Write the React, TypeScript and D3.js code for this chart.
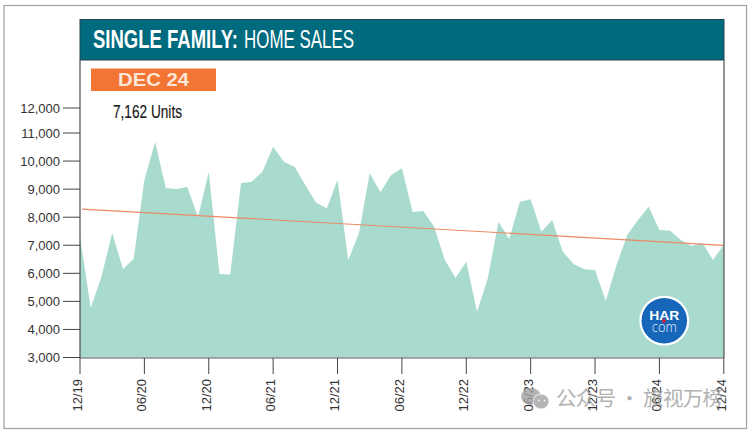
import React from "react";
import * as d3 from "d3";

const months = d3.range(0, 61);
const homeSales = [
  7304, 4765, 5879, 7439, 6152, 6508, 9322, 10679, 9039, 9005, 9074, 8004, 9609, 5973, 5954, 9208,
  9262, 9619, 10510, 9975, 9797, 9143, 8514, 8316, 9322, 6474, 7425, 9564, 8886, 9500, 9743,
  8182, 8222, 7657, 6474, 5845, 6414, 4631, 5805, 7836, 7222, 8549, 8638, 7484, 7900,
  6771, 6330, 6142, 6117, 5013, 6295, 7365, 7900, 8371, 7539, 7519, 7187, 6974, 7093, 6474, 7020,
];
const trendMonths = [0.2, 60];
const trendValues = [8290, 6997];
const yTicks = [3000, 4000, 5000, 6000, 7000, 8000, 9000, 10000, 11000, 12000];
const xTickMonths = [0, 6, 12, 18, 24, 30, 36, 42, 48, 54, 60];
const xTickLabels = ["12/19", "06/20", "12/20", "06/21", "12/21", "06/22", "12/22", "06/23", "12/23", "06/24", "12/24"];

const W = 752;
const H = 433;
const sans = "'Liberation Sans', Arial, sans-serif";

export default function App() {
  const x = d3.scaleLinear().domain([0, 60]).range([80, 723.8]);
  const y = d3.scaleLinear().domain([3000, 11000, 12000]).range([357.5, 133, 108]);
  const fmt = d3.format(",");
  const area = d3
    .area<number>()
    .x((_, i) => x(months[i]))
    .y0(y(3000))
    .y1((d) => y(d));
  const trend = d3
    .line<number>()
    .x((_, i) => x(trendMonths[i]))
    .y((d) => y(d));

  return (
    <svg width={W} height={H} style={{ position: "absolute", left: 0, top: 0, display: "block" }}>
      <rect x={0} y={0} width={W} height={H} fill="#fff" />
      <rect x={4} y={5.5} width={742.5} height={423} fill="#fff" stroke="#a6a6a6" strokeWidth={1.3} />

      <path d={area(homeSales) ?? ""} fill="#a8dace" />
      <path d={trend(trendValues) ?? ""} fill="none" stroke="#ea8a66" strokeWidth={1.2} />

      {/* header */}
      <rect x={80} y={19.5} width={644} height={40.5} fill="#006a7e" stroke="#24454f" strokeWidth={1} />
      <text x={93} y={48} fontFamily={sans} fontSize={26.5} fontWeight={700} fill="#fff" textLength={145} lengthAdjust="spacingAndGlyphs">
        SINGLE FAMILY:
      </text>
      <text x={244} y={48} fontFamily={sans} fontSize={26.5} fill="#fff" textLength={110} lengthAdjust="spacingAndGlyphs">
        HOME SALES
      </text>

      {/* period badge */}
      <rect x={91} y={68.5} width={125} height={22.5} fill="#f37533" />
      <text x={118} y={86} fontFamily={sans} fontSize={18} fontWeight={700} fill="#fde6d8" textLength={71} lengthAdjust="spacingAndGlyphs">
        DEC 24
      </text>
      <text x={113} y={118} fontFamily={sans} fontSize={19} fill="#1a1a1a" stroke="#1a1a1a" strokeWidth={0.2} textLength={69} lengthAdjust="spacingAndGlyphs">
        7,162 Units
      </text>

      {/* axes */}
      <path d={`M80,60V358M724,60V358`} fill="none" stroke="#4d4d4d" strokeWidth={1.2} />
      <path d={`M80,358H724`} fill="none" stroke="#5a5a5a" strokeWidth={1.2} />
      {yTicks.map((t) => (
        <g key={t}>
          <line x1={63} x2={80} y1={y(t)} y2={y(t)} stroke="#444" strokeWidth={1} />
          <text x={60} y={y(t) + 4.5} textAnchor="end" fontFamily={sans} fontSize={13} fill="#333">
            {fmt(t)}
          </text>
        </g>
      ))}
      {xTickMonths.map((m, i) => (
        <g key={m}>
          <line x1={x(m)} x2={x(m)} y1={358} y2={374} stroke="#444" strokeWidth={1} />
          <text
            transform={`translate(${x(m) - 1.5},379) rotate(-90)`}
            textAnchor="end"
            dominantBaseline="middle"
            fontFamily={sans}
            fontSize={13}
            fill="#333"
          >
            {xTickLabels[i]}
          </text>
        </g>
      ))}

      {/* HAR logo */}
      <circle cx={664.3} cy={320.7} r={25} fill="#fff" />
      <circle cx={664.3} cy={320.7} r={22.8} fill="#1666b9" />
      <text x={649.3} y={319.5} fontFamily={sans} fontSize={12.5} fontWeight={700} fill="#fff" textLength={30} lengthAdjust="spacingAndGlyphs">
        HAR
      </text>
      <text x={651.8} y={331.5} fontFamily="'Open Sans', sans-serif" fontWeight={300} fontSize={14} fill="#e6eef8" textLength={25} lengthAdjust="spacingAndGlyphs">
        com
      </text>
      <circle cx={664} cy={321} r={2} fill="#c8243c" />

      {/* watermark */}
      <g opacity={0.8}>
        <ellipse cx={531} cy={396.5} rx={10} ry={8.5} fill="#a3a3a3" />
        <ellipse cx={541} cy={401.5} rx={8} ry={7.5} fill="#a3a3a3" stroke="#fff" strokeWidth={0.8} />
        <circle cx={539} cy={400.5} r={1} fill="#eee" />
        <circle cx={544.5} cy={400.5} r={1} fill="#eee" />
      </g>
      <text x={556} y={406} fontFamily="'Noto Sans CJK SC', sans-serif" fontSize={20.5} fill="#a0a0a0" opacity={0.8} textLength={167} lengthAdjust="spacing">
        公众号 · 旅视万榜
      </text>
    </svg>
  );
}
